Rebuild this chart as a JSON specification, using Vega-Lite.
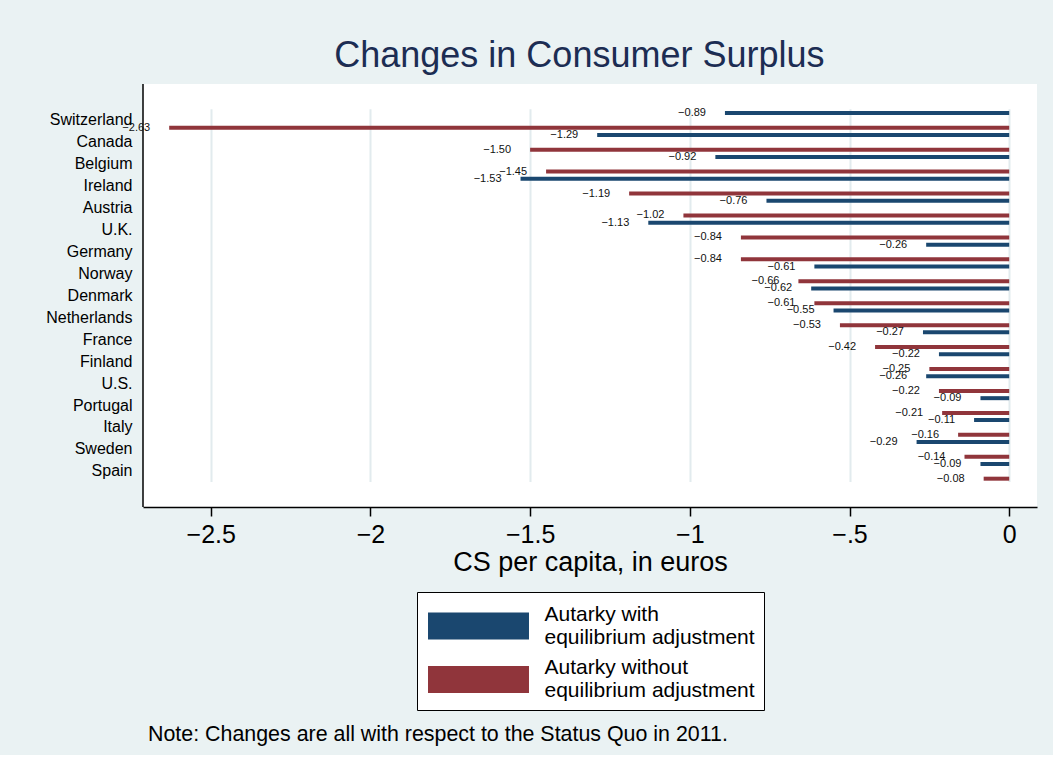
{
  "$schema": "https://vega.github.io/schema/vega-lite/v6.json",
  "background": "#eaf2f3",
  "padding": {"left": 45, "top": 38, "right": 16, "bottom": 10},
  "title": {
    "text": "Changes in Consumer Surplus",
    "fontSize": 36,
    "font": "Liberation Sans",
    "fontWeight": "normal",
    "color": "#1c2d53",
    "anchor": "middle",
    "offset": 8,
    "dx": 38
  },
  "datasets": {
    "cs": [
      {"country": "Switzerland", "scenario": "Autarky with equilibrium adjustment", "value": -0.89},
      {"country": "Switzerland", "scenario": "Autarky without equilibrium adjustment", "value": -2.63},
      {"country": "Canada", "scenario": "Autarky with equilibrium adjustment", "value": -1.29},
      {"country": "Canada", "scenario": "Autarky without equilibrium adjustment", "value": -1.50},
      {"country": "Belgium", "scenario": "Autarky with equilibrium adjustment", "value": -0.92},
      {"country": "Belgium", "scenario": "Autarky without equilibrium adjustment", "value": -1.45},
      {"country": "Ireland", "scenario": "Autarky with equilibrium adjustment", "value": -1.53},
      {"country": "Ireland", "scenario": "Autarky without equilibrium adjustment", "value": -1.19},
      {"country": "Austria", "scenario": "Autarky with equilibrium adjustment", "value": -0.76},
      {"country": "Austria", "scenario": "Autarky without equilibrium adjustment", "value": -1.02},
      {"country": "U.K.", "scenario": "Autarky with equilibrium adjustment", "value": -1.13},
      {"country": "U.K.", "scenario": "Autarky without equilibrium adjustment", "value": -0.84},
      {"country": "Germany", "scenario": "Autarky with equilibrium adjustment", "value": -0.26},
      {"country": "Germany", "scenario": "Autarky without equilibrium adjustment", "value": -0.84},
      {"country": "Norway", "scenario": "Autarky with equilibrium adjustment", "value": -0.61},
      {"country": "Norway", "scenario": "Autarky without equilibrium adjustment", "value": -0.66},
      {"country": "Denmark", "scenario": "Autarky with equilibrium adjustment", "value": -0.62},
      {"country": "Denmark", "scenario": "Autarky without equilibrium adjustment", "value": -0.61},
      {"country": "Netherlands", "scenario": "Autarky with equilibrium adjustment", "value": -0.55},
      {"country": "Netherlands", "scenario": "Autarky without equilibrium adjustment", "value": -0.53},
      {"country": "France", "scenario": "Autarky with equilibrium adjustment", "value": -0.27},
      {"country": "France", "scenario": "Autarky without equilibrium adjustment", "value": -0.42},
      {"country": "Finland", "scenario": "Autarky with equilibrium adjustment", "value": -0.22},
      {"country": "Finland", "scenario": "Autarky without equilibrium adjustment", "value": -0.25},
      {"country": "U.S.", "scenario": "Autarky with equilibrium adjustment", "value": -0.26},
      {"country": "U.S.", "scenario": "Autarky without equilibrium adjustment", "value": -0.22},
      {"country": "Portugal", "scenario": "Autarky with equilibrium adjustment", "value": -0.09},
      {"country": "Portugal", "scenario": "Autarky without equilibrium adjustment", "value": -0.21},
      {"country": "Italy", "scenario": "Autarky with equilibrium adjustment", "value": -0.11},
      {"country": "Italy", "scenario": "Autarky without equilibrium adjustment", "value": -0.16},
      {"country": "Sweden", "scenario": "Autarky with equilibrium adjustment", "value": -0.29},
      {"country": "Sweden", "scenario": "Autarky without equilibrium adjustment", "value": -0.14},
      {"country": "Spain", "scenario": "Autarky with equilibrium adjustment", "value": -0.09},
      {"country": "Spain", "scenario": "Autarky without equilibrium adjustment", "value": -0.08}
    ],
    "frame": [{"edge": -2.712}]
  },
  "vconcat": [
    {
      "width": 894,
      "height": 423,
      "title": {
        "text": "Note: Changes are all with respect to the Status Quo in 2011.",
        "orient": "bottom",
        "anchor": "start",
        "frame": "group",
        "fontSize": 21.4,
        "font": "Liberation Sans",
        "fontWeight": "normal",
        "color": "black",
        "offset": 13,
        "dx": 5
      },
      "encoding": {
        "x": {
          "field": "value",
          "type": "quantitative",
          "scale": {"domain": [-2.712, 0.087], "nice": false, "zero": false},
          "axis": {
            "title": "CS per capita, in euros",
            "values": [-2.5, -2, -1.5, -1, -0.5, 0],
            "labelExpr": "replace(format(datum.value, '~g'), '0.', '.')",
            "grid": true,
            "gridColor": "#e2ebee",
            "gridWidth": 2,
            "domain": true,
            "domainColor": "black",
            "domainWidth": 1.5,
            "ticks": true,
            "tickColor": "black",
            "tickWidth": 1.5,
            "tickSize": 9,
            "labelFontSize": 25,
            "labelColor": "black",
            "labelPadding": 6,
            "labelFlush": false,
            "titleFontSize": 27,
            "titleFontWeight": "normal",
            "titleColor": "black",
            "titlePadding": 2
          }
        }
      },
      "layer": [
        {
          "data": {"name": "frame"},
          "mark": {"type": "rule", "color": "black", "strokeWidth": 1.5},
          "encoding": {
            "x": {"field": "edge", "type": "quantitative"}
          }
        },
        {
          "data": {"name": "cs"},
          "mark": {"type": "bar"},
          "encoding": {
            "y": {
              "field": "country",
              "type": "nominal",
              "sort": ["Switzerland", "Canada", "Belgium", "Ireland", "Austria", "U.K.", "Germany", "Norway", "Denmark", "Netherlands", "France", "Finland", "U.S.", "Portugal", "Italy", "Sweden", "Spain"],
              "scale": {"paddingInner": 0, "paddingOuter": 0, "range": [25.4, 398.3]},
              "axis": {
                "title": null,
                "domain": false,
                "ticks": false,
                "grid": false,
                "labelFontSize": 16,
                "labelColor": "black",
                "labelPadding": 11,
                "labelLimit": 300
              }
            },
            "yOffset": {
              "field": "scenario",
              "type": "nominal",
              "sort": ["Autarky with equilibrium adjustment", "Autarky without equilibrium adjustment"],
              "scale": {"paddingInner": 0.728, "paddingOuter": 0.11}
            },
            "color": {
              "field": "scenario",
              "type": "nominal",
              "scale": {
                "domain": ["Autarky with equilibrium adjustment", "Autarky without equilibrium adjustment"],
                "range": ["#1a476f", "#90353b"]
              },
              "legend": {
                "title": null,
                "orient": "bottom",
                "direction": "vertical",
                "labelExpr": "datum.label == 'Autarky with equilibrium adjustment' ? ['Autarky with', 'equilibrium adjustment'] : ['Autarky without', 'equilibrium adjustment']"
              }
            }
          }
        },
        {
          "data": {"name": "cs"},
          "mark": {"type": "text", "align": "right", "baseline": "middle", "dx": -19, "fontSize": 11, "color": "#111111"},
          "encoding": {
            "y": {"field": "country", "type": "nominal", "sort": ["Switzerland", "Canada", "Belgium", "Ireland", "Austria", "U.K.", "Germany", "Norway", "Denmark", "Netherlands", "France", "Finland", "U.S.", "Portugal", "Italy", "Sweden", "Spain"]},
            "yOffset": {"field": "scenario", "type": "nominal", "sort": ["Autarky with equilibrium adjustment", "Autarky without equilibrium adjustment"]},
            "text": {"field": "value", "type": "quantitative", "format": ".2f"}
          }
        }
      ]
    }
  ],
  "resolve": {"legend": {"color": "independent"}},
  "config": {
    "font": "Liberation Sans",
    "view": {"stroke": null, "fill": "white"},
    "legend": {
      "symbolType": "M-3.74,-0.148L3.74,-0.148L3.74,1.852L-3.74,1.852Z",
      "symbolSize": 729,
      "symbolOffset": 39,
      "symbolStrokeWidth": 0,
      "symbolOpacity": 1,
      "labelFontSize": 21,
      "labelFont": "Liberation Sans",
      "labelColor": "black",
      "labelOffset": 52.5,
      "labelLimit": 400,
      "padding": 9,
      "rowPadding": 6.5,
      "strokeColor": "black",
      "fillColor": "white",
      "offset": 17,
      "layout": {"bottom": {"anchor": "middle"}}
    }
  }
}
